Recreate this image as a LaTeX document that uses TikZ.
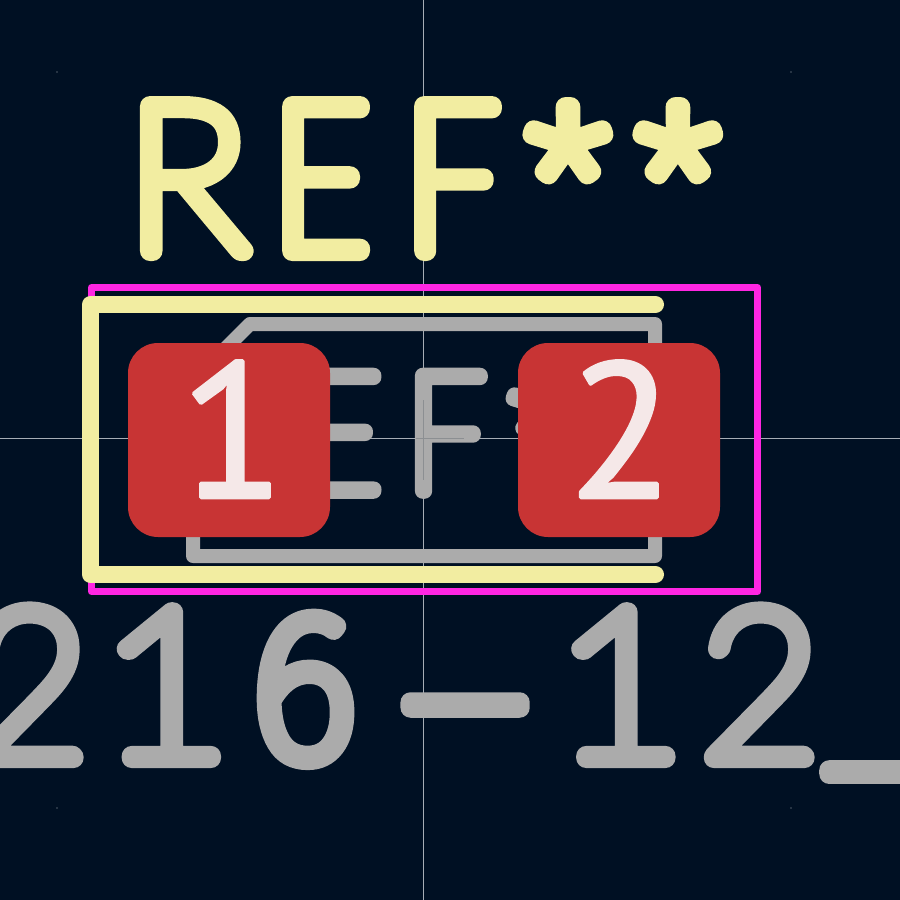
\documentclass[tikz,border=0pt]{standalone}
\usepackage{fontspec}
\newfontfamily\padfont{PT Sans}
\newfontfamily\fl{Lato Hairline}
\newfontfamily\fln[FakeStretch=0.8]{Lato Hairline}
\newfontfamily\flm[FakeStretch=0.85]{Lato Hairline}
\newfontfamily\flw[FakeStretch=1.1]{Lato Hairline}
\newfontfamily\ff{Fira Sans Thin}
\newfontfamily\fp{Poppins Thin}
\definecolor{board}{HTML}{001023}
\definecolor{silk}{HTML}{F2EDA1}
\definecolor{court}{HTML}{FF26E2}
\definecolor{fab}{HTML}{ABABAB}
\definecolor{padred}{HTML}{C83434}
\definecolor{padtxt}{HTML}{F5E8E8}
\definecolor{axis}{HTML}{A6ADB5}
\definecolor{markgray}{HTML}{8C8F92}
\newcommand{\strk}[1]{\special{pdf:code 1 j 1 J #1 w 2 Tr}}
% one glyph at a fixed advance: font, size, drop, advance, glyph
\newcommand{\gl}[5]{\makebox[#4pt][l]{#1\fontsize{#2}{#2}\selectfont\raisebox{#3pt}{#5}}}
\tikzset{
 every node/.style={inner sep=0pt,outer sep=0pt},
 axisline/.style={axis,line width=1pt},
 silkline/.style={silk,line width=17pt,line cap=round,line join=round},
 courtline/.style={court,line width=7pt,line join=round},
 fabline/.style={fab,line width=14pt,line join=round},
 markline/.style={markgray,line width=1pt},
 padbox/.style={fill=padred,rounded corners=30pt},
 padnum/.style={text=padtxt,anchor=base,font=\padfont\fontsize{192}{192}\selectfont},
 stroketext/.style={anchor=base west},
}
\begin{document}
\begin{tikzpicture}[x=1pt,y=-1pt]
\useasboundingbox (0,0) rectangle (900,900);
\fill[board] (0,0) rectangle (900,900);
\draw[axisline] (423,0) -- (423,900);
\draw[axisline] (0,438) -- (900,438);
\foreach \px/\py in {57/72,791/72,57/808,791/808} \fill[axis] (\px,\py) circle (0.6pt);
\node[stroketext,text=silk] (ref) at (126,251) {\strk{20}\gl{\fl}{207}{0}{147}{R}\gl{\fln}{207}{0}{132}{E}\gl{\fln}{207}{0}{117}{F}\gl{\ff}{213}{-12}{110}{*}\gl{\ff}{213}{-12}{80}{*}};
\node[stroketext,text=fab] (val) at (-31,758) {\strk{20}\gl{\fl}{207}{0}{130.5}{2}\gl{\flw}{207}{0}{151.5}{1}\gl{\ff}{207}{0}{170}{6}\gl{\fp}{300}{-61}{133}{-}\gl{\flw}{207}{0}{146}{1}\gl{\fl}{207}{0}{121}{2}\gl{\fp}{207}{-6}{90}{\_}};
\node[stroketext,text=fab] (fabref) at (187,491) {\strk{15.5}\gl{\fl}{165}{0}{113}{R}\gl{\flm}{165}{0}{106.5}{E}\gl{\flm}{165}{0}{98.5}{F}\gl{\ff}{170}{-10}{88}{*}\gl{\ff}{170}{-10}{60}{*}};
\draw[markline] (423.5,400) -- (423.5,480);
\draw[markline] (416,438) -- (464,438);
\draw[courtline] (91.5,287.5) rectangle (757.5,591.5);
\draw[silkline] (655.5,304.5) -- (90.5,304.5) -- (90.5,574.5) -- (655.5,574.5);
\draw[fabline] (250,324) -- (655,324) -- (655,556) -- (193,556) -- (193,381) -- cycle;
\path[padbox] (128,343) rectangle (330,537);
\path[padbox] (518,343) rectangle (720,537);
\node[padnum] (p1) at (232.5,497.5) {\strk{3.5}1};
\node[padnum] (p2) at (621,497.5) {\strk{3.5}2};
\end{tikzpicture}
\end{document}
